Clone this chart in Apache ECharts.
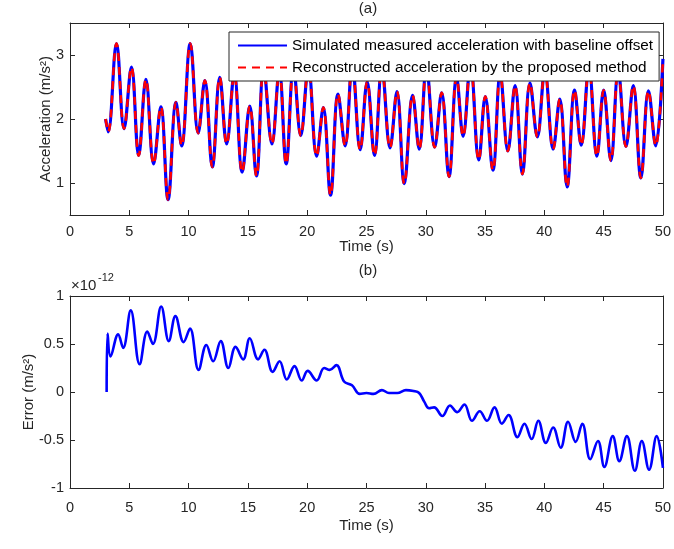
<!DOCTYPE html>
<html>
<head>
<meta charset="utf-8">
<script src="https://cdn.jsdelivr.net/npm/echarts@6/dist/echarts.min.js"></script>
<style>
html,body{margin:0;padding:0;background:#fff;}
#chart{width:674px;height:549px;}
</style>
</head>
<body>
<div id="chart"></div>
<script>
// ---- Data (extrema of the signals) ----
// (a) time stamps (s) of the turning points of the acceleration record
const timeA = [3.0, 3.22, 3.92, 4.56, 5.18, 5.79, 6.4, 7.05, 7.66, 8.27,
  8.94, 9.41, 10.14, 10.81, 11.37, 12.0, 12.63, 13.21, 13.85, 14.52,
  15.16, 15.72, 16.33, 17.03, 17.65, 18.23, 18.85, 19.46, 20.1, 20.8,
  21.36, 21.97, 22.6, 23.2, 23.8, 24.47, 25.06, 25.68, 26.3, 26.99,
  27.57, 28.19, 28.89, 29.45, 30.06, 30.75, 31.34, 31.96, 32.6, 33.15,
  33.77, 34.47, 35.02, 35.66, 36.28, 36.92, 37.53, 38.15, 38.79, 39.41,
  40.04, 40.74, 41.3, 41.92, 42.55, 43.11, 43.76, 44.43, 45.0, 45.61,
  46.23, 46.88, 47.5, 48.14, 48.78, 49.39, 50.0];
// simulated measured acceleration with baseline offset (m/s^2)
const measuredAccel = [2.0, 1.80, 3.18, 1.85, 2.81, 1.43, 2.62, 1.30, 2.19, 0.74,
  2.26, 1.58, 3.18, 1.78, 2.60, 1.25, 2.65, 1.61, 2.7, 1.17,
  2.20, 1.11, 2.8, 1.61, 2.75, 1.30, 2.8, 1.74, 2.8, 1.42,
  2.18, 0.81, 2.39, 1.58, 2.85, 1.52, 2.58, 1.43, 2.8, 1.55,
  2.43, 0.99, 2.37, 1.53, 2.8, 1.56, 2.41, 1.10, 2.65, 1.73,
  2.85, 1.36, 2.35, 1.20, 2.7, 1.50, 2.52, 1.14, 2.56, 1.72,
  2.75, 1.53, 2.31, 0.94, 2.45, 1.59, 2.8, 1.42, 2.45, 1.35,
  2.75, 1.57, 2.52, 1.08, 2.44, 1.58, 2.94];
// reconstructed acceleration by the proposed method (m/s^2) – overlaps the measured one
const reconstructedAccel = [2.0, 1.80, 3.18, 1.85, 2.81, 1.43, 2.62, 1.30, 2.19, 0.74,
  2.26, 1.58, 3.18, 1.78, 2.60, 1.25, 2.65, 1.61, 2.7, 1.17,
  2.20, 1.11, 2.8, 1.61, 2.75, 1.30, 2.8, 1.74, 2.8, 1.42,
  2.18, 0.81, 2.39, 1.58, 2.85, 1.52, 2.58, 1.43, 2.8, 1.55,
  2.43, 0.99, 2.37, 1.53, 2.8, 1.56, 2.41, 1.10, 2.65, 1.73,
  2.85, 1.36, 2.35, 1.20, 2.7, 1.50, 2.52, 1.14, 2.56, 1.72,
  2.75, 1.53, 2.31, 0.94, 2.45, 1.59, 2.8, 1.42, 2.45, 1.35,
  2.75, 1.57, 2.52, 1.08, 2.44, 1.58, 2.94];

// (b) error, in units of 1e-12 m/s^2
const timeB = [3.09, 3.17, 3.42, 4.06, 4.48, 5.12, 5.87, 6.52, 6.99, 7.69,
  8.33, 8.89, 9.58, 10.12, 10.84, 11.5, 12.07, 12.71, 13.35, 13.96,
  14.6, 15.16, 15.86, 16.39, 17.09, 17.67, 18.28, 18.93, 19.54, 20.04,
  20.8, 21.44, 21.9, 22.47, 23.11, 23.78, 24.43, 25.0, 25.6, 26.3,
  26.9, 27.6, 28.33, 28.97, 29.44, 29.87, 30.28, 30.7, 31.4, 32.04,
  32.65, 33.26, 33.9, 34.55, 35.16, 35.8, 36.42, 36.98, 37.73, 38.32,
  38.93, 39.49, 40.13, 40.74, 41.38, 42.0, 42.64, 43.2, 43.87, 44.52,
  45.06, 45.77, 46.32, 46.96, 47.63, 48.22, 48.83, 49.47, 50.0];
const errorE12 = [0.0, 0.61, 0.37, 0.60, 0.46, 0.85, 0.29, 0.63, 0.50, 0.89,
  0.53, 0.79, 0.52, 0.66, 0.23, 0.49, 0.32, 0.53, 0.25, 0.47,
  0.34, 0.56, 0.34, 0.44, 0.21, 0.32, 0.13, 0.27, 0.12, 0.22,
  0.12, 0.25, 0.23, 0.28, 0.11, 0.07, -0.02, -0.01, -0.02, 0.02,
  -0.01, -0.01, 0.02, 0.01, -0.01, -0.10, -0.17, -0.16, -0.25, -0.14,
  -0.21, -0.13, -0.30, -0.20, -0.30, -0.16, -0.33, -0.24, -0.47, -0.33,
  -0.49, -0.30, -0.53, -0.37, -0.58, -0.31, -0.52, -0.33, -0.70, -0.51,
  -0.78, -0.46, -0.72, -0.46, -0.82, -0.51, -0.81, -0.46, -0.79];

// tick labels
const xTicks = [0, 5, 10, 15, 20, 25, 30, 35, 40, 45, 50];
const yTicksA = [1, 2, 3];
const yTicksB = [-1, -0.5, 0, 0.5, 1];

const seriesNames = ['Simulated measured acceleration with baseline offset',
                     'Reconstructed acceleration by the proposed method'];

// ---- Chart ----
const FONT = '"Liberation Sans", Arial, Helvetica, sans-serif';
const AX = '#262626';
const chart = echarts.init(document.getElementById('chart'), null, {renderer: 'canvas'});

function pairs(xs, ys) { return xs.map((x, i) => [x, ys[i]]); }

function xAxisDef(grid, pos, showLabel, name, gap, margin) {
  return {
    type: 'value', gridIndex: grid, position: pos, min: xTicks[0], max: xTicks[xTicks.length - 1], interval: 5,
    axisLine: {show: true, onZero: false, lineStyle: {color: AX, width: 1}},
    axisTick: {show: true, inside: true, length: 5, lineStyle: {color: AX}},
    axisLabel: {show: showLabel, color: AX, fontSize: 14.5, fontFamily: FONT, margin: margin},
    splitLine: {show: false},
    name: name, nameLocation: 'middle', nameGap: gap, nameMoveOverlap: false,
    nameTextStyle: {color: AX, fontSize: 15, fontFamily: FONT}
  };
}
function yAxisDef(grid, pos, showLabel, min, max, interval, ticks, name, gap) {
  return {
    type: 'value', gridIndex: grid, position: pos, min: min, max: max, interval: interval,
    axisLine: {show: true, onZero: false, lineStyle: {color: AX, width: 1}},
    axisTick: {show: true, inside: true, length: 5, lineStyle: {color: AX}, customValues: ticks},
    axisLabel: {show: showLabel, color: AX, fontSize: 14.5, fontFamily: FONT, margin: 6, customValues: ticks},
    splitLine: {show: false},
    name: name, nameLocation: 'middle', nameGap: gap, nameMoveOverlap: false,
    nameTextStyle: {color: AX, fontSize: 15, fontFamily: FONT}
  };
}

const option = {
  backgroundColor: '#fff',
  animation: false,
  textStyle: {fontFamily: FONT},
  title: [
    {text: '(a)', left: 368, top: 1, padding: 0, textAlign: 'center',
     textStyle: {fontSize: 15, fontWeight: 'normal', color: AX, fontFamily: FONT}},
    {text: '(b)', left: 368, top: 263, padding: 0, textAlign: 'center',
     textStyle: {fontSize: 15, fontWeight: 'normal', color: AX, fontFamily: FONT}}
  ],
  grid: [
    {left: 70, right: 8, top: 23, height: 192, containLabel: false},
    {left: 70, right: 8, top: 296, height: 192, containLabel: false}
  ],
  legend: {
    orient: 'vertical', left: 229, top: 32,
    backgroundColor: '#fff', borderColor: AX, borderWidth: 1,
    padding: [6, 6, 6, 8], itemGap: 7, itemWidth: 49, itemHeight: 14,
    itemStyle: {opacity: 0},
    textStyle: {fontSize: 15.3, color: '#000', fontFamily: FONT},
    data: seriesNames
  },
  xAxis: [
    xAxisDef(0, 'bottom', true, 'Time (s)', 24, 9),
    xAxisDef(0, 'top', false, '', 0, 9),
    xAxisDef(1, 'bottom', true, 'Time (s)', 30, 12),
    xAxisDef(1, 'top', false, '', 0, 9)
  ],
  yAxis: [
    yAxisDef(0, 'left', true, 0.5, 3.5, 0.5, yTicksA, 'Acceleration (m/s²)', 17),
    yAxisDef(0, 'right', false, 0.5, 3.5, 0.5, yTicksA, '', 0),
    yAxisDef(1, 'left', true, -1, 1, 0.5, yTicksB, 'Error (m/s²)', 34),
    yAxisDef(1, 'right', false, -1, 1, 0.5, yTicksB, '', 0)
  ],
  graphic: [
    {type: 'text', left: 71, top: 278, style: {text: '×10', fontSize: 15, fill: AX, font: '15px ' + FONT}},
    {type: 'text', left: 98, top: 272, style: {text: '-12', fontSize: 11, fill: AX, font: '11px ' + FONT}}
  ],
  series: [
    {
      name: seriesNames[0], type: 'line', xAxisIndex: 0, yAxisIndex: 0,
      data: pairs(timeA, measuredAccel), showSymbol: false, symbol: 'none',
      smooth: 0.4,
      lineStyle: {color: '#0000ff', width: 3.2}, itemStyle: {color: '#0000ff'}
    },
    {
      name: seriesNames[1], type: 'line', xAxisIndex: 0, yAxisIndex: 0,
      data: pairs(timeA, reconstructedAccel), showSymbol: false, symbol: 'none',
      smooth: 0.4,
      lineStyle: {color: '#ff0000', width: 2.6, type: [8, 6]}, itemStyle: {color: '#ff0000'}
    },
    {
      name: 'Error', type: 'line', xAxisIndex: 2, yAxisIndex: 2,
      data: pairs(timeB, errorE12), showSymbol: false, symbol: 'none',
      smooth: 0.4,
      lineStyle: {color: '#0000ff', width: 2.6}, itemStyle: {color: '#0000ff'}
    }
  ]
};
chart.setOption(option);
</script>
</body>
</html>
